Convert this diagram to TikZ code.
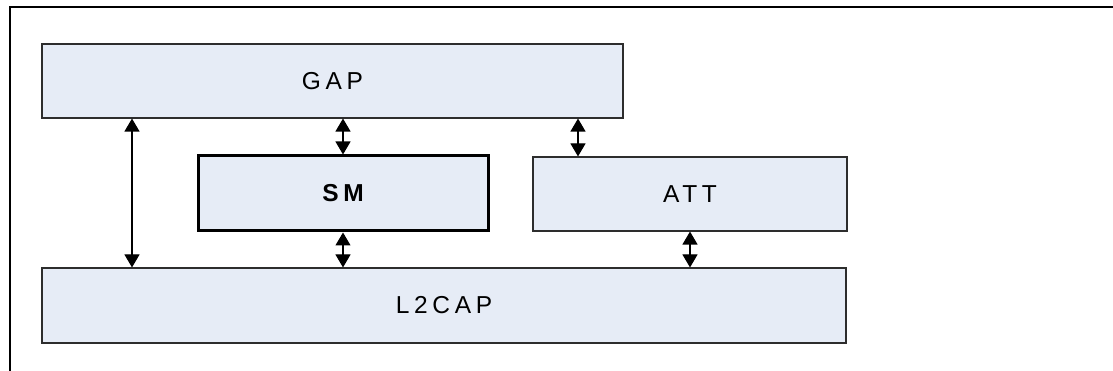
\documentclass[tikz,border=0pt]{standalone}
\usepackage{fontspec}
\setmainfont{Liberation Sans}
\newfontfamily\spaced[LetterSpace=19]{Liberation Sans}
\usetikzlibrary{arrows.meta}
\definecolor{boxfill}{RGB}{230,236,246}
\definecolor{boxline}{RGB}{45,45,45}
\tikzset{
  layerbox/.style={draw=boxline, line width=1.1pt, fill=boxfill, inner sep=0pt, font=\spaced\fontsize{24.5}{27}\selectfont},
  dblarrow/.style={line width=1.1pt, {Triangle[width=15pt,length=13pt]}-{Triangle[width=15pt,length=13pt]}}
}
\begin{document}
\begin{tikzpicture}[x=1pt,y=-1pt]
\useasboundingbox (0,0) rectangle (1113,371);
\draw[line width=2.5pt] (10,371) -- (10,7) -- (1113,7);
\node[layerbox, minimum width=581pt, minimum height=74pt] (gap) at (332.5,81) {GAP};
\node[layerbox, draw=black, line width=3pt, minimum width=290pt, minimum height=75pt, font=\spaced\bfseries\fontsize{24.5}{27}\selectfont] (sm) at (343,193.5) {SM};
\node[layerbox, minimum width=314pt, minimum height=74pt] (att) at (690,194) {ATT};
\node[layerbox, minimum width=804pt, minimum height=75pt] (l2cap) at (444,305.5) {L2CAP};
\coordinate (a1t) at (132,118);
\coordinate (a1b) at (132,268);
\draw[dblarrow] (gap.south -| a1t) -- (l2cap.north -| a1b);
\draw[dblarrow] (gap.south -| sm.north) -- (sm.north);
\draw[dblarrow] (sm.south) -- (l2cap.north -| sm.south);
\coordinate (a3) at (578,140);
\draw[dblarrow] (gap.south -| a3) -- (att.north -| a3);
\draw[dblarrow] (att.south) -- (l2cap.north -| att.south);
\end{tikzpicture}
\end{document}
